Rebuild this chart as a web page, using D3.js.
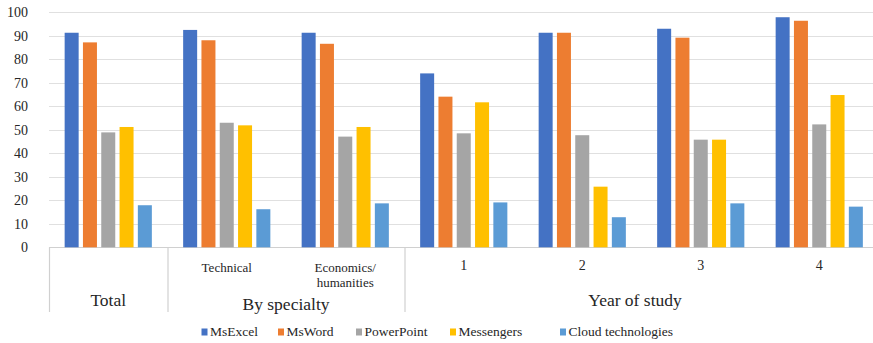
<!DOCTYPE html>
<html>
<head>
<meta charset="utf-8">
<script src="https://cdn.jsdelivr.net/npm/d3@7"></script>
<style>
  html, body { margin: 0; padding: 0; background: #fff; }
  svg { display: block; }
</style>
</head>
<body>
<svg id="chart" width="873" height="343"></svg>
<script>
// Survey results: share of students (%) using each tool
const categories = ["total", "technical", "economics", "y1", "y2", "y3", "y4"];
const categoryLabels = [[], ["Technical"], ["Economics/", "humanities"], ["1"], ["2"], ["3"], ["4"]];
const groupLabels = ["Total", "By specialty", "Year of study"];
const groupSizes = [1, 2, 4];

const seriesNames = ["MsExcel", "MsWord", "PowerPoint", "Messengers", "Cloud technologies"];
const msExcel    = [91.3, 92.5, 91.3, 74.0, 91.3, 93.0, 97.9];
const msWord     = [87.2, 88.1, 86.6, 64.1, 91.3, 89.2, 96.4];
const powerPoint = [48.9, 53.0, 47.1, 48.5, 47.7, 45.8, 52.3];
const messengers = [51.2, 51.9, 51.2, 61.7, 25.8, 45.8, 64.8];
const cloudTech  = [17.9, 16.2, 18.7, 19.1, 12.8, 18.7, 17.3];
const yTicks = [0, 10, 20, 30, 40, 50, 60, 70, 80, 90, 100];

const seriesValues = [msExcel, msWord, powerPoint, messengers, cloudTech];
const colors = ["#4472C4", "#ED7D31", "#A5A5A5", "#FFC000", "#5B9BD5"];
const FONT = "Tinos, 'Liberation Serif', 'Noto Serif', 'Nimbus Roman', 'FreeSerif', Times, 'DejaVu Serif', serif";

const svg = d3.select("#chart").style("font-family", FONT);

const x0 = d3.scaleBand().domain(categories).range([49, 878.5]).padding(0);
const x1 = d3.scaleBand().domain(seriesNames).range([0, x0.bandwidth()])
  .paddingInner(0.235).paddingOuter(0.855);
const y = d3.scaleLinear().domain([0, 100]).range([247.3, 12.3]);

// Horizontal gridlines
svg.append("g")
  .selectAll("line")
  .data(yTicks)
  .join("line")
  .attr("x1", 49).attr("x2", 878)
  .attr("y1", d => Math.round(y(d)) + 0.5)
  .attr("y2", d => Math.round(y(d)) + 0.5)
  .attr("stroke", d => d === 0 ? "#d0d0d0" : "#e0e0e0")
  .attr("stroke-width", 1.2);

// Y axis labels
const yAxis = d3.axisLeft(y).tickValues(yTicks).tickSize(0).tickPadding(0);
svg.append("g")
  .attr("transform", "translate(28,0)")
  .call(yAxis)
  .attr("font-family", FONT)
  .call(g => g.select(".domain").remove())
  .call(g => g.selectAll("text")
    .style("font-family", FONT)
    .attr("font-size", 14)
    .attr("fill", "#262626"));

// Bars
const rows = categories.map((c, i) => ({
  cat: c,
  values: seriesNames.map((s, j) => ({ series: s, value: seriesValues[j][i], color: colors[j] }))
}));

svg.append("g")
  .selectAll("g")
  .data(rows)
  .join("g")
  .attr("transform", d => `translate(${x0(d.cat)},0)`)
  .selectAll("rect")
  .data(d => d.values)
  .join("rect")
  .attr("x", d => x1(d.series))
  .attr("width", x1.bandwidth())
  .attr("y", d => y(d.value))
  .attr("height", d => y(0) - y(d.value))
  .attr("fill", d => d.color);

// Category axis: dividers between top-level groups
const axisTop = y(0);
const boundaries = [0];
groupSizes.reduce((acc, n) => { boundaries.push(acc + n); return acc + n; }, 0);
svg.append("g")
  .selectAll("line")
  .data(boundaries)
  .join("line")
  .attr("x1", d => d < categories.length ? x0(categories[d]) + 0.5 : x0.range()[1] - 0.5)
  .attr("x2", d => d < categories.length ? x0(categories[d]) + 0.5 : x0.range()[1] - 0.5)
  .attr("y1", axisTop)
  .attr("y2", 312)
  .attr("stroke", "#d0d0d0")
  .attr("stroke-width", 1.2);

// Sub-category labels
const sub = svg.append("g")
  .attr("fill", "#262626")
  .attr("text-anchor", "middle");
categories.forEach((c, i) => {
  const cx = x0(c) + x0.bandwidth() / 2;
  const lines = categoryLabels[i];
  const digit = lines.length === 1 && /^\d$/.test(lines[0]);
  lines.forEach((t, k) => {
    sub.append("text")
      .attr("x", cx)
      .attr("y", (digit ? 270 : 272) + k * 15)
      .attr("font-size", digit ? 14 : 13)
      .style("font-family", FONT)
      .text(t);
  });
});

// Top-level group labels
let start = 0;
const groupBaselines = [306, 310, 306];
groupLabels.forEach((g, i) => {
  const first = categories[start];
  const last = categories[start + groupSizes[i] - 1];
  const cx = (x0(first) + x0(last) + x0.bandwidth()) / 2;
  svg.append("text")
    .attr("x", i === 2 ? 635 : cx)
    .attr("y", groupBaselines[i])
    .attr("text-anchor", "middle")
    .attr("font-size", 17.5)
    .style("font-family", FONT)
    .attr("fill", "#262626")
    .text(g);
  start += groupSizes[i];
});

// Legend
const legendX = [201.5, 278, 356, 450, 560];
const legend = svg.append("g");
seriesNames.forEach((s, i) => {
  const gx = legendX[i];
  legend.append("rect")
    .attr("x", gx).attr("y", 328.5)
    .attr("width", 6).attr("height", 7)
    .attr("fill", colors[i]);
  legend.append("text")
    .attr("x", gx + 8.5).attr("y", 335.5)
    .attr("font-size", 13.5)
    .style("font-family", FONT)
    .attr("fill", "#262626")
    .text(s);
});
</script>
</body>
</html>
